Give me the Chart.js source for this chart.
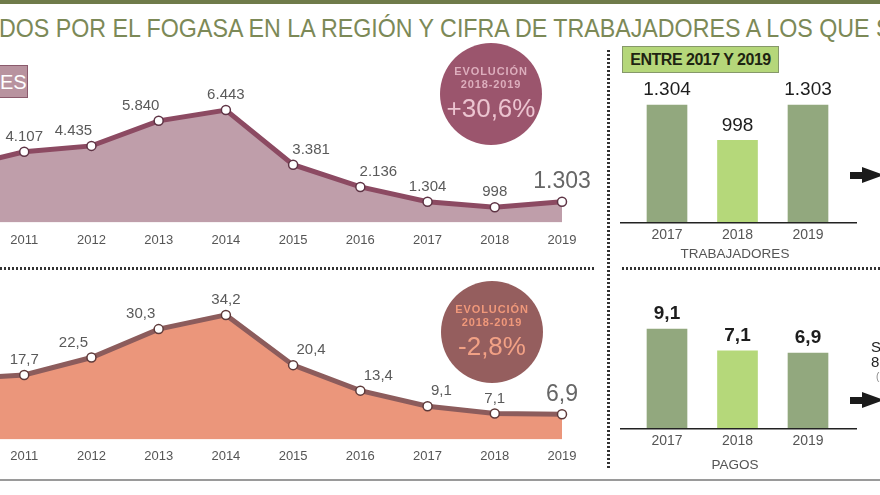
<!DOCTYPE html>
<html lang="es">
<head>
<meta charset="utf-8">
<title>Fogasa</title>
<script src="https://cdn.jsdelivr.net/npm/chart.js@4.4.0/dist/chart.umd.min.js"></script>
<style>
  body { margin: 0; background: #fff; }
  #page { position: relative; width: 880px; height: 495px; overflow: hidden; background: #fff;
          font-family: 'Liberation Sans', Arial, sans-serif; color: #555; }
  .abs { position: absolute; }
  .box { position: absolute; }
  .topbar { left: 0; top: 0; width: 880px; height: 4px; background: #6f7b4a; }
  #title { left: -1px; top: 16px; font-size: 25px; line-height: 25px; color: #7c8957;
           white-space: nowrap; transform-origin: 0 0; }
  .es { left: 0; top: 65px; width: 26px; height: 31px; background: #b8939f; border: 1px solid #8a5a6c;
        border-left: none; color: #fff; font-size: 20px; line-height: 32px; text-align: right; padding-right: 1px;
        overflow: hidden; }
  .circle { border-radius: 50%; text-align: center; }
  .circle .t1 { position: absolute; left: 0; right: 0; font-size: 11px; font-weight: bold; letter-spacing: 0.9px; }
  .circle .t2 { position: absolute; left: 0; right: 0; font-size: 26px; }
  .hdots { height: 3px; background: repeating-linear-gradient(to right, #333 0 2px, transparent 2px 4px); }
  .vdots { width: 3px; background: repeating-linear-gradient(to bottom, #333 0 2px, transparent 2px 4px); }
  .entre { left: 622px; top: 46px; width: 155px; height: 25px; background: #b5d77a; border: 1px solid #86986a;
           color: #1e2412; font-size: 16px; font-weight: bold; letter-spacing: -0.5px; line-height: 26px; text-align: center; }
  .caption { font-size: 13.5px; color: #555; text-align: center; width: 200px; }
  .shaft { height: 7px; background: #1b1b1b; }
  .head { width: 0; height: 0; border-top: 8px solid transparent; border-bottom: 8px solid transparent;
          border-left: 22px solid #1b1b1b; }
</style>
</head>
<body>
<div id="page">
  <div class="box topbar"></div>
  <div class="abs" id="title">DOS POR EL FOGASA EN LA REGIÓN Y CIFRA DE TRABAJADORES A LOS QUE S</div>

  <div class="box" style="left:-80px; top:40px; width:700px; height:225px;"><canvas id="lineTrab"></canvas></div>
  <div class="box" style="left:-80px; top:280px; width:700px; height:200px;"><canvas id="linePagos"></canvas></div>
  <div class="box" style="left:612px; top:75px; width:250px; height:181px;"><canvas id="barTrab"></canvas></div>
  <div class="box" style="left:612px; top:290px; width:250px; height:171px;"><canvas id="barPagos"></canvas></div>

  <div class="box es">ES</div>

  <div class="box circle" style="left:440px; top:43px; width:102px; height:102px; background:#9b556d;">
    <div class="t1" style="top:22px; color:#ddaebd;">EVOLUCIÓN</div>
    <div class="t1" style="top:35px; color:#ddaebd;">2018-2019</div>
    <div class="t2" style="top:50px; color:#ecc4d0;">+30,6%</div>
  </div>
  <div class="box circle" style="left:441px; top:281px; width:102px; height:102px; background:#955e5e;">
    <div class="t1" style="top:22px; color:#f0987a;">EVOLUCIÓN</div>
    <div class="t1" style="top:35px; color:#f0987a;">2018-2019</div>
    <div class="t2" style="top:50px; color:#f2a185;">-2,8%</div>
  </div>

  <div class="box hdots" style="left:0; top:267px; width:594px;"></div>
  <div class="box hdots" style="left:622px; top:267px; width:258px;"></div>
  <div class="box vdots" style="left:607px; top:50px; height:420px;"></div>
  <div class="box" style="left:0; top:479px; width:880px; height:2px; background:#9a9a9a;"></div>

  <div class="box entre">ENTRE 2017 Y 2019</div>
  <div class="box caption" style="left:635px; top:246px;">TRABAJADORES</div>
  <div class="box caption" style="left:635px; top:457px;">PAGOS</div>

  <div class="box shaft" style="left:850px; top:172px; width:14px;"></div>
  <div class="box head" style="left:862px; top:167px;"></div>
  <div class="box shaft" style="left:850px; top:397px; width:14px;"></div>
  <div class="box head" style="left:862px; top:392px;"></div>
  <div class="box" style="left:871px; top:339px; font-size:15px; line-height:15px; color:#222;">S<br>8</div>
  <div class="box" style="left:876px; top:371px; font-size:10px; color:#888;">(</div>
</div>

<script>
// Datos: trabajadores atendidos y pagos (millones de euros)
const years = ['2010', '2011', '2012', '2013', '2014', '2015', '2016', '2017', '2018', '2019'];
const trabajadores = [3200, 4107, 4435, 5840, 6443, 3381, 2136, 1304, 998, 1303];
const pagos = [16.6, 17.7, 22.5, 30.3, 34.2, 20.4, 13.4, 9.1, 7.1, 6.9];

const tramoYears = ['2017', '2018', '2019'];
const tramoTrabajadores = [1304, 998, 1303];
const tramoPagos = [9.1, 7.1, 6.9];

const FONT = "'Liberation Sans', Arial, sans-serif";

function fmtMiles(v) {
    return String(v).replace(/\B(?=(\d{3})+(?!\d))/g, '.');
}

function fmtDecimal(v) {
    return v.toFixed(1).replace('.', ',');
}

// Value labels above points / bars
const valueLabels = {
    id: 'valueLabels',
    afterDatasetsDraw(chart, args, o) {
        const meta = chart.getDatasetMeta(0);
        const data = chart.data.datasets[0].data;
        const ctx = chart.ctx;
        ctx.save();
        ctx.textAlign = 'center';
        ctx.textBaseline = 'middle';
        meta.data.forEach((el, i) => {
            const last = i === data.length - 1;
            let dx = 0;
            // slide labels away from the line on steep slopes
            if (o.slide && i > 0 && !last) {
                const peak = data[i] > data[i - 1] && data[i] > data[i + 1];
                const rise = meta.data[i + 1].y - meta.data[i - 1].y;
                if (!peak && Math.abs(rise) > 22.5) {
                    dx = Math.max(-18, Math.min(18, rise * 0.6));
                }
            }
            const big = o.bigLast && last;
            ctx.font = (o.weight || 'normal') + ' ' + (big ? o.bigSize : o.size) + 'px ' + FONT;
            ctx.fillStyle = big ? o.bigColor : o.color;
            ctx.fillText(o.format(data[i]), el.x + dx, el.y - (big ? o.bigOffset : o.offset));
        });
        ctx.restore();
    }
};

// Base line under the bars, a bit wider than the plot
const baseLine = {
    id: 'baseLine',
    afterDraw(chart, args, o) {
        const { ctx, chartArea: a } = chart;
        ctx.save();
        ctx.strokeStyle = '#222';
        ctx.lineWidth = 1.6;
        ctx.beginPath();
        ctx.moveTo(a.left - o.left, a.bottom + 0.5);
        ctx.lineTo(a.right + o.right, a.bottom + 0.5);
        ctx.stroke();
        ctx.restore();
    }
};

function makeArea(id, values, cfg) {
    const ctx = document.getElementById(id).getContext('2d');
    return new Chart(ctx, {
        type: 'line',
        data: {
            labels: years,
            datasets: [{
                data: values,
                borderColor: cfg.line,
                backgroundColor: cfg.fill,
                borderWidth: 5,
                fill: 'start',
                tension: 0,
                clip: false,
                pointRadius: 4.5,
                pointBorderWidth: 1.5,
                pointBackgroundColor: '#fff',
                pointBorderColor: cfg.point
            }]
        },
        options: {
            responsive: true,
            maintainAspectRatio: false,
            animation: false,
            layout: { padding: cfg.padding },
            plugins: {
                legend: { display: false },
                tooltip: { enabled: false },
                valueLabels: {
                    format: cfg.format,
                    slide: true,
                    size: 15,
                    color: '#5a5a5a',
                    offset: 15,
                    bigLast: true,
                    bigSize: 23,
                    bigColor: '#666',
                    bigOffset: 20
                }
            },
            scales: {
                x: {
                    grid: { display: false, drawTicks: false },
                    border: { display: false },
                    ticks: {
                        color: '#555',
                        padding: cfg.tickPad,
                        font: { family: FONT, size: 13 },
                        maxRotation: 0,
                        autoSkip: false
                    }
                },
                y: { display: false, min: cfg.min, max: cfg.max }
            }
        },
        plugins: [valueLabels]
    });
}

function makeBars(id, values, cfg) {
    const ctx = document.getElementById(id).getContext('2d');
    return new Chart(ctx, {
        type: 'bar',
        data: {
            labels: tramoYears,
            datasets: [{
                data: values,
                backgroundColor: ['#92a87e', '#b5d87a', '#92a87e'],
                borderWidth: 0,
                barThickness: 40
            }]
        },
        options: {
            responsive: true,
            maintainAspectRatio: false,
            animation: false,
            layout: { padding: cfg.padding },
            plugins: {
                legend: { display: false },
                tooltip: { enabled: false },
                valueLabels: {
                    format: cfg.format,
                    size: 19,
                    weight: cfg.weight,
                    color: '#1d1d1d',
                    offset: 15
                },
                baseLine: { left: 11.75, right: 13.75 }
            },
            scales: {
                x: {
                    grid: { display: false, drawTicks: false },
                    border: { display: false },
                    ticks: {
                        color: '#555',
                        padding: 5,
                        font: { family: FONT, size: 14 }
                    }
                },
                y: { display: false, min: cfg.min, max: cfg.max }
            }
        },
        plugins: [valueLabels, baseLine]
    });
}

makeArea('lineTrab', trabajadores, {
    line: '#8c4a62', fill: '#bf9eaa', point: '#5e3445',
    min: 150, max: 9246, format: fmtMiles, tickPad: 10,
    padding: { left: 37, right: 58, top: 20, bottom: 7 }
});

makeArea('linePagos', pagos, {
    line: '#8c5c5c', fill: '#eb967b', point: '#5e3a3a',
    min: 0, max: 38.3, format: fmtDecimal, tickPad: 9,
    padding: { left: 37, right: 58, top: 20, bottom: 7 }
});

makeBars('barTrab', tramoTrabajadores, {
    min: 290, max: 1348, format: fmtMiles, weight: 'normal',
    padding: { left: 19.75, right: 18.75, top: 25, bottom: 7 }
});

makeBars('barPagos', tramoPagos, {
    min: 0, max: 9.93, format: fmtDecimal, weight: 'bold',
    padding: { left: 19.75, right: 18.75, top: 30, bottom: 6 }
});

// fit the cropped headline to its width in the picture
const title = document.getElementById('title');
title.style.transform = 'scaleX(' + (893 / title.offsetWidth) + ')';
</script>
</body>
</html>
